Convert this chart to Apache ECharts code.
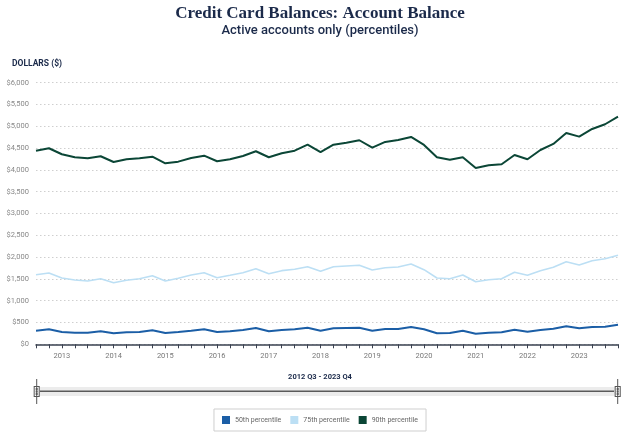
<!DOCTYPE html>
<html>
<head>
<meta charset="utf-8">
<script src="https://cdn.jsdelivr.net/npm/echarts@6/dist/echarts.min.js"></script>
<style>
html,body{margin:0;padding:0;background:#fff;}
#chart{width:640px;height:438px;}
</style>
</head>
<body>
<div id="chart"></div>
<script>
// Quarterly categories 2012 Q3 .. 2023 Q4
var categories = [
  '2012 Q3','2012 Q4',
  '2013 Q1','2013 Q2','2013 Q3','2013 Q4',
  '2014 Q1','2014 Q2','2014 Q3','2014 Q4',
  '2015 Q1','2015 Q2','2015 Q3','2015 Q4',
  '2016 Q1','2016 Q2','2016 Q3','2016 Q4',
  '2017 Q1','2017 Q2','2017 Q3','2017 Q4',
  '2018 Q1','2018 Q2','2018 Q3','2018 Q4',
  '2019 Q1','2019 Q2','2019 Q3','2019 Q4',
  '2020 Q1','2020 Q2','2020 Q3','2020 Q4',
  '2021 Q1','2021 Q2','2021 Q3','2021 Q4',
  '2022 Q1','2022 Q2','2022 Q3','2022 Q4',
  '2023 Q1','2023 Q2','2023 Q3','2023 Q4'
];

var p50 = [
  312,344,282,266,266,298,252,275,282,321,259,282,312,344,282,298,328,374,298,328,344,381,312,
  367,374,381,312,351,351,397,344,252,259,312,243,266,275,335,289,328,358,413,367,397,404,450
];

var p75 = [
  1597,1636,1521,1475,1452,1505,1413,1468,1505,1574,1452,1514,1590,1643,1528,1583,1643,1734,1620,1689,1720,1780,1675,
  1780,1796,1812,1704,1757,1773,1842,1712,1521,1505,1590,1436,1482,1505,1652,1583,1689,1766,1895,1819,1918,1964,2042
];

var p90 = [
  4441,4496,4359,4290,4267,4313,4182,4244,4267,4304,4152,4189,4274,4327,4198,4244,4320,4427,4290,4382,4441,4579,4408,
  4579,4625,4680,4510,4641,4687,4756,4572,4290,4235,4290,4044,4106,4129,4343,4244,4457,4595,4847,4763,4939,5047,5221
];

var seriesNames = ['50th percentile','75th percentile','90th percentile'];
var seriesColors = ['#1b5ea6','#bcdff4','#0b4636'];

var titleText = 'Credit Card Balances: Account Balance';
var subtitleText = 'Active accounts only (percentiles)';
var yAxisTitle = 'DOLLARS ($)';
var rangeText = '2012 Q3 - 2023 Q4';

var navy = '#1b2a4a';
var sans = 'Roboto, "Liberation Sans", sans-serif';

var chart = echarts.init(document.getElementById('chart'), null, {renderer:'canvas'});

var allData = [p50, p75, p90];
var series = seriesNames.map(function(n, i){
  return {
    name: n,
    type: 'line',
    data: allData[i],
    symbol: 'none',
    smooth: false,
    lineStyle: {color: seriesColors[i], width: i === 1 ? 1.6 : 2},
    itemStyle: {color: seriesColors[i]}
  };
});

var option = {
  animation: false,
  backgroundColor: '#fff',
  title: [
    {text: titleText, left: 'center', top: 0,
     textStyle: {fontFamily: '"Liberation Serif", serif', fontWeight: 'bold', fontSize: 17, color: navy}},
    {text: subtitleText, left: 'center', top: 19,
     textStyle: {fontFamily: sans, fontWeight: 500, fontSize: 13, color: navy}},
    {text: yAxisTitle, left: 7, top: 54,
     textStyle: {fontFamily: sans, fontWeight: 'bold', fontSize: 8.5, color: navy}}
  ],
  grid: {left: 36, right: 22, top: 82.7, bottom: 93.7, containLabel: false},
  legend: {
    data: seriesNames,
    left: 'center',
    top: 409,
    icon: 'rect',
    itemWidth: 8,
    itemHeight: 8,
    itemGap: 9,
    padding: [7, 8, 7, 8],
    borderColor: '#cfcfcf',
    borderWidth: 1,
    textStyle: {fontFamily: sans, fontSize: 7, color: '#666'}
  },
  xAxis: {
    type: 'category',
    data: categories,
    boundaryGap: false,
    axisLine: {lineStyle: {color: '#3a4150', width: 1.5}},
    axisTick: {show: true, interval: 0, length: 4, lineStyle: {color: '#3a4150'}},
    axisLabel: {
      interval: function(idx, val){ return /Q1$/.test(val); },
      formatter: function(val){ return val.slice(0,4); },
      fontFamily: sans, fontSize: 7.5, color: '#777', margin: 8
    },
    splitLine: {show: false}
  },
  yAxis: {
    type: 'value',
    min: 0,
    max: 6000,
    interval: 500,
    axisLine: {show: false},
    axisTick: {show: false},
    axisLabel: {
      formatter: function(v){ return '$' + v.toLocaleString('en-US'); },
      fontFamily: sans, fontSize: 7.5, color: '#888', margin: 7
    },
    splitLine: {lineStyle: {color: '#cfcfcf', type: [1.5, 2.5], width: 1}}
  },
  dataZoom: [{
    type: 'slider',
    xAxisIndex: 0,
    left: 35,
    right: 22,
    top: 387,
    height: 9,
    start: 0,
    end: 100,
    showDetail: false,
    showDataShadow: false,
    brushSelect: false,
    moveHandleSize: 0,
    backgroundColor: '#ececec',
    borderColor: 'transparent',
    fillerColor: 'rgba(0,0,0,0)',
    handleIcon: 'path://M5,0L5,30M2,9L8,9L8,21L2,21ZM4.4,11.5L5.6,11.5L5.6,12.7L4.4,12.7ZM4.4,14.4L5.6,14.4L5.6,15.6L4.4,15.6ZM4.4,17.3L5.6,17.3L5.6,18.5L4.4,18.5Z',
    handleSize: '280%',
    handleStyle: {color: '#fff', borderColor: '#555', borderWidth: 1}
  }],
  graphic: [
    {type: 'rect', left: 40, top: 390.5, z: 10,
     shape: {width: 574, height: 1.5}, style: {fill: '#5a5a5a'}},
    {type: 'text', left: 'center', top: 373,
     style: {text: rangeText, fill: navy, font: 'bold 7.5px Roboto, "Liberation Sans", sans-serif'}}
  ],
  series: series
};

chart.setOption(option);
</script>
</body>
</html>
